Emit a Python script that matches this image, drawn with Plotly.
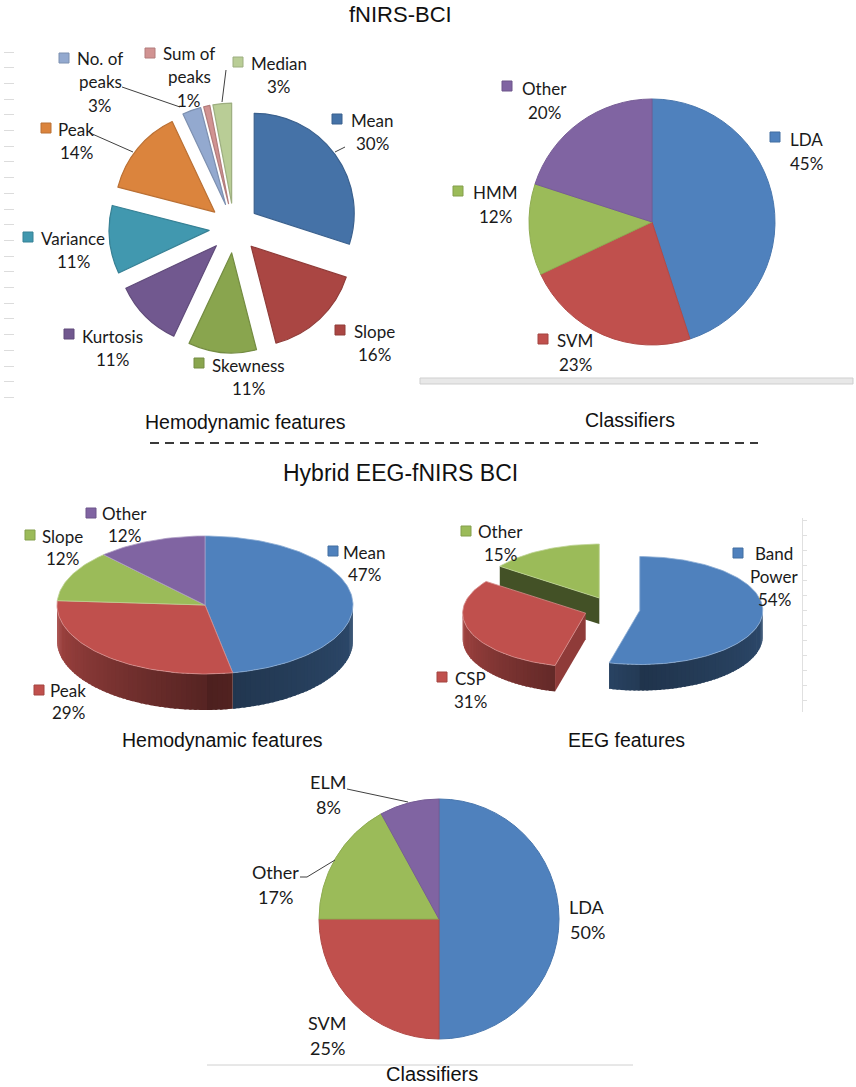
import numpy as np
import plotly.graph_objects as go

W, H = 856, 1087

# ---------------- data ----------------
fnirs_feat_labels = ["Mean", "Slope", "Skewness", "Kurtosis", "Variance", "Peak",
                     "No. of peaks", "Sum of peaks", "Median"]
fnirs_feat_values = [30, 16, 11, 11, 11, 14, 3, 1, 3]

fnirs_clf_labels = ["LDA", "SVM", "HMM", "Other"]
fnirs_clf_values = [45, 23, 12, 20]

hyb_hemo_labels = ["Mean", "Peak", "Slope", "Other"]
hyb_hemo_values = [47, 29, 12, 12]

hyb_eeg_labels = ["Band Power", "CSP", "Other"]
hyb_eeg_values = [54, 31, 15]

hyb_clf_labels = ["LDA", "SVM", "Other", "ELM"]
hyb_clf_values = [50, 25, 17, 8]

# ---------------- styles ----------------
C1 = ["#4572A7", "#AA4643", "#89A54E", "#71588F", "#4198AF", "#DB843D",
      "#93A9CF", "#D19392", "#B9CD96"]
C2 = ["#4F81BD", "#C0504D", "#9BBB59", "#8064A2"]
C3 = ["#4F81BD", "#C0504D", "#9BBB59", "#8064A2"]
C4 = ["#4F81BD", "#C0504D", "#9BBB59"]
C5 = ["#4F81BD", "#C0504D", "#9BBB59", "#8064A2"]

LABEL_FONT = "Lato"
TITLE_FONT = "Liberation Sans"
WRAP = {"No. of peaks": ["No. of", "peaks"], "Sum of peaks": ["Sum of", "peaks"],
        "Band Power": ["Band", "Power"]}


def hex2rgb(h):
    h = h.lstrip("#")
    return [int(h[i:i + 2], 16) for i in (0, 2, 4)]


def shade(h, f):
    return "rgb(%d,%d,%d)" % tuple(max(0, min(255, round(c * f))) for c in hex2rgb(h))


def tint(h, t):
    return "rgb(%d,%d,%d)" % tuple(round(c + (255 - c) * t) for c in hex2rgb(h))


def pie_domain(cx, cy, r, pull=0.0):
    R = r * (1 + pull)
    return dict(x=[(cx - R) / W, (cx + R) / W], y=[1 - (cy + R) / H, 1 - (cy - R) / H])


def rim_factor(t):
    if t >= 180:
        return 0.45 + 0.42 * (t - 180) / 90
    return 0.40 + 0.18 * (180 - t) / 90


def pie3d(values, colors, cx, cy, rx, ry, depth, pull=0.0):
    v = np.asarray(values, float)
    ends = np.cumsum(v) / v.sum() * 360
    starts = np.concatenate([[0.0], ends[:-1]])
    k = ry / rx

    def pt(acx, acy, th):
        th = np.radians(th)
        return acx + rx * np.sin(th), acy - ry * np.cos(th)

    items = []
    for a, b, col in zip(starts, ends, colors):
        m = np.radians((a + b) / 2)
        acx = cx + pull * np.sin(m)
        acy = cy - pull * k * np.cos(m)
        items.append((acy, a, b, col, acx))

    traces = []
    for acy, a, b, col, acx in sorted(items, key=lambda s: s[0]):
        polys = []
        if pull > 0:
            for ang, sgn in ((a, -1), (b, 1)):
                s = np.sin(np.radians(ang))
                if sgn * s > 1e-6:
                    nx = sgn * np.cos(np.radians(ang))
                    ex, ey = pt(acx, acy, ang)
                    xs = [acx, ex, ex, acx, acx]
                    ys = [acy, ey, ey + depth, acy + depth, acy]
                    polys.append((xs, ys, shade(col, 0.55 + 0.2 * nx), None))
        lo, hi = max(a, 90), min(b, 270)
        if hi > lo:
            edges = np.append(np.arange(lo, hi, 2.0), hi)
            pairs = [(t0, t1) for t0, t1 in zip(edges[:-1], edges[1:]) if t1 - t0 > 1e-6]
            for j, (t0, t1) in enumerate(pairs):
                t1e = min(hi, t1 + 1.0) if j < len(pairs) - 1 else t1
                th = np.linspace(t0, t1e, 3)
                x, y = pt(acx, acy, th)
                xs = list(x) + list(x[::-1]) + [x[0]]
                ys = list(y) + list(y[::-1] + depth) + [y[0]]
                polys.append((xs, ys, shade(col, rim_factor((t0 + t1) / 2)), None))
        th = np.linspace(a, b, max(3, int((b - a) / 1.5) + 2))
        x, y = pt(acx, acy, th)
        xs = [acx] + list(x) + [acx]
        ys = [acy] + list(y) + [acy]
        polys.append((xs, ys, col, tint(col, 0.35)))
        for xs, ys, fc, lc in polys:
            traces.append(go.Scatter(
                x=xs, y=ys, mode="lines", fill="toself", fillcolor=fc,
                line=dict(color=lc if lc else fc, width=0.8 if lc else 0),
                hoverinfo="skip", showlegend=False, xaxis="x", yaxis="y"))
    return traces


fig = go.Figure()

# ---------- flat pies ----------
fig.add_trace(go.Pie(
    labels=fnirs_feat_labels, values=fnirs_feat_values, sort=False,
    direction="clockwise", rotation=0, textinfo="none", pull=0.25,
    marker=dict(colors=C1, line=dict(color=[shade(c, 0.85) for c in C1], width=1.2)),
    domain=pie_domain(234, 228, 100, 0.25), showlegend=False))

fig.add_trace(go.Pie(
    labels=fnirs_clf_labels, values=fnirs_clf_values, sort=False,
    direction="clockwise", rotation=0, textinfo="none",
    marker=dict(colors=C2, line=dict(color=[shade(c, 0.92) for c in C2], width=1)),
    domain=pie_domain(652, 222, 123), showlegend=False))

fig.add_trace(go.Pie(
    labels=hyb_clf_labels, values=hyb_clf_values, sort=False,
    direction="clockwise", rotation=0, textinfo="none",
    marker=dict(colors=C5, line=dict(color=[shade(c, 0.92) for c in C5], width=1)),
    domain=pie_domain(439, 919, 120), showlegend=False))

# ---------- 3D pies ----------
for tr in pie3d(hyb_hemo_values, C3, 205, 605, 148, 69, 36):
    fig.add_trace(tr)
for tr in pie3d(hyb_eeg_values, C4, 612, 609, 123, 54, 26, pull=28):
    fig.add_trace(tr)

# dummy traces for decorative axes
fig.add_trace(go.Scatter(x=[None], y=[None], xaxis="x", yaxis="y2", showlegend=False))
fig.add_trace(go.Scatter(x=[None], y=[None], xaxis="x", yaxis="y3", showlegend=False))

# ---------- labels ----------
def add_label(name, value, tx, ty, dy, size=17, sq=None, sqcolor=None):
    lines = WRAP.get(name, [name]) + [f"{value}%"]
    for i, t in enumerate(lines):
        fig.add_annotation(x=tx, y=ty + i * dy, xref="x", yref="y", text=t,
                           showarrow=False, xanchor="center", yanchor="middle",
                           font=dict(family=LABEL_FONT, size=size, color="#1a1a1a"))
    if sq is not None:
        sx, sy = sq
        fig.add_shape(type="rect", xref="x", yref="y", x0=sx - 5, x1=sx + 5,
                      y0=sy - 5, y1=sy + 5, fillcolor=sqcolor,
                      line=dict(color=shade(sqcolor, 0.85), width=1))


pos1 = {"Mean": (372, 120, 337, 119), "Slope": (374, 331, 340, 330),
        "Skewness": (248, 365, 199, 363), "Kurtosis": (112, 336, 69, 334),
        "Variance": (73, 238, 28, 237), "Peak": (76, 129, 46, 128),
        "No. of peaks": (100, 58, 64, 58), "Sum of peaks": (189, 53, 150, 53),
        "Median": (279, 63, 238, 62)}
for n, v, c in zip(fnirs_feat_labels, fnirs_feat_values, C1):
    tx, ty, sx, sy = pos1[n]
    add_label(n, v, tx, ty, 23.5, sq=(sx, sy), sqcolor=c)

pos2 = {"LDA": (806, 139, 775, 137), "SVM": (575, 340, 543, 339),
        "HMM": (495, 192, 458, 191), "Other": (544, 88, 507, 86)}
for n, v, c in zip(fnirs_clf_labels, fnirs_clf_values, C2):
    tx, ty, sx, sy = pos2[n]
    add_label(n, v, tx, ty, 24.5, sq=(sx, sy), sqcolor=c)

pos3 = {"Mean": (364, 552, 333, 551), "Peak": (68, 690, 39, 690),
        "Slope": (62, 536, 30, 535), "Other": (124, 513, 91, 513)}
for n, v, c in zip(hyb_hemo_labels, hyb_hemo_values, C3):
    tx, ty, sx, sy = pos3[n]
    add_label(n, v, tx, ty, 22, sq=(sx, sy), sqcolor=c)

pos4 = {"Band Power": (774, 553, 738, 553), "CSP": (470, 678, 442, 677),
        "Other": (500, 531, 466, 531)}
for n, v, c in zip(hyb_eeg_labels, hyb_eeg_values, C4):
    tx, ty, sx, sy = pos4[n]
    add_label(n, v, tx, ty, 23, sq=(sx, sy), sqcolor=c)

pos5 = {"LDA": (587, 907), "SVM": (327, 1023), "Other": (275, 872), "ELM": (328, 782)}
for n, v in zip(hyb_clf_labels, hyb_clf_values):
    tx, ty = pos5[n]
    add_label(n, v, tx, ty, 24.5, size=18)

# ---------- leader lines ----------
leaders = [[(122, 87), (180, 107)], [(90, 133), (133, 152)], [(226, 70), (222, 102)],
           [(345, 147), (335, 152)], [(347, 789), (408, 802)],
           [(300, 877), (307, 877), (335, 860)]]
for pts in leaders:
    path = "M " + " L ".join(f"{x},{y}" for x, y in pts)
    fig.add_shape(type="path", xref="x", yref="y", path=path,
                  line=dict(color="#404040", width=1))

# ---------- titles ----------
titles = [("fNIRS-BCI", 400, 14, 22), ("Hemodynamic features", 245, 422, 19.5),
          ("Classifiers", 630, 420, 19.5), ("Hybrid EEG-fNIRS BCI", 400, 473, 23),
          ("Hemodynamic features", 222, 740, 19.5), ("EEG features", 626, 740, 19.5),
          ("Classifiers", 432, 1074, 20)]
for t, x, y, s in titles:
    fig.add_annotation(x=x, y=y, xref="x", yref="y", text=t, showarrow=False,
                       xanchor="center", yanchor="middle",
                       font=dict(family=TITLE_FONT, size=s, color="#111111"))

# ---------- decorative frame pieces ----------
fig.add_shape(type="line", xref="x", yref="y", x0=150, x1=758, y0=443, y1=443,
              line=dict(color="#3a3a3a", width=2, dash="9px,6px"))
fig.add_shape(type="rect", xref="x", yref="y", x0=420, x1=853, y0=378, y1=384,
              fillcolor="#e8e8e8", line=dict(color="#cfcfcf", width=1))
fig.add_shape(type="line", xref="x", yref="y", x0=207, x1=633, y0=1065, y1=1065,
              line=dict(color="#d0d0d0", width=1))

fig.update_layout(
    width=W, height=H, margin=dict(l=0, r=0, t=0, b=0),
    paper_bgcolor="white", plot_bgcolor="rgba(0,0,0,0)", showlegend=False,
    xaxis=dict(range=[0, W], domain=[0, 1], visible=False, fixedrange=True),
    yaxis=dict(range=[H, 0], domain=[0, 1], visible=False, fixedrange=True),
    yaxis2=dict(anchor="free", position=3 / W, side="right",
                domain=[1 - 400 / H, 1 - 48 / H], range=[400, 48],
                showline=False, showgrid=False, zeroline=False, showticklabels=False,
                ticks="outside", ticklen=10, tickcolor="#dcdcdc", tickwidth=1,
                tickmode="linear", tick0=52, dtick=15.7, fixedrange=True),
    yaxis3=dict(anchor="free", position=802 / W, side="right",
                domain=[1 - 712 / H, 1 - 518 / H], range=[712, 518],
                showline=True, linecolor="#e0e0e0", linewidth=1,
                showgrid=False, zeroline=False, showticklabels=False,
                ticks="outside", ticklen=4, tickcolor="#e0e0e0", tickwidth=1,
                tickmode="linear", tick0=520, dtick=15, fixedrange=True),
)

fig.write_html("out.html", config={"displayModeBar": False},
               post_script="document.body.style.margin='0px';document.body.style.padding='0px';")
